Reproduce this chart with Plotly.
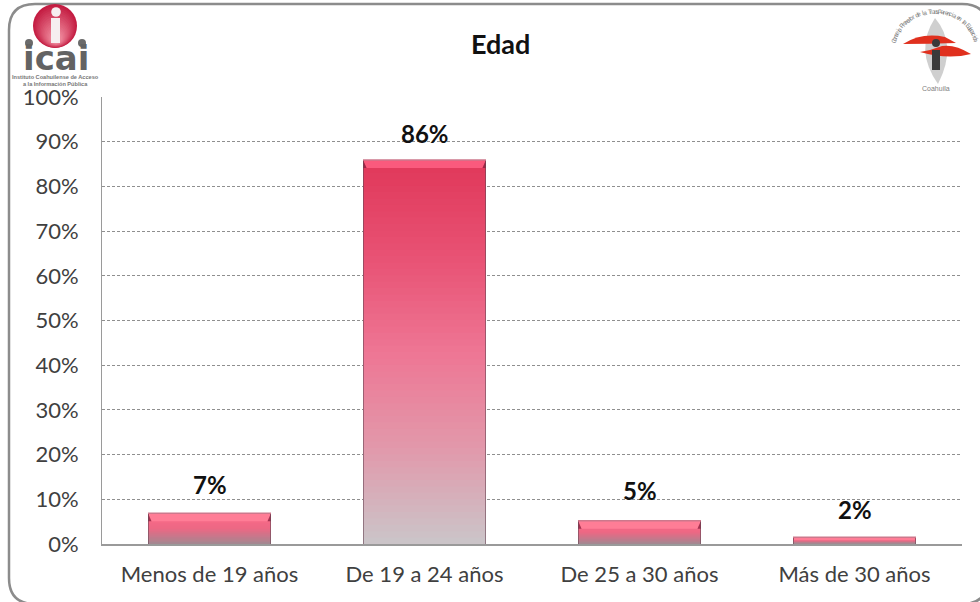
import math
import plotly.graph_objects as go

categories = ["Menos de 19 años", "De 19 a 24 años", "De 25 a 30 años", "Más de 30 años"]
values = [6.9, 85.9, 5.2, 1.5]
value_labels = ["7%", "86%", "5%", "2%"]
label_shift = [29, 27, 30, 28]
title_text = "Edad"
y_ticks = list(range(0, 101, 10))
y_tick_labels = [f"{v}%" for v in y_ticks]

W, H = 980, 602
L, R, T, B = 102, 18, 97, 58
PW, PH = W - L - R, H - T - B
BAR_W = 0.572
FONT = "Lato, Carlito, Calibri, sans-serif"

def px(x): return (x - L) / PW
def py(y): return 1 - (y - T) / PH
def lerp(a, b, t): return tuple(a[i] + (b[i] - a[i]) * t for i in range(3))
def rgb(c): return "rgb(%d,%d,%d)" % tuple(round(v) for v in c)

stops_tall = [(0, (224, 56, 90)), (.25, (232, 82, 116)), (.5, (238, 118, 148)), (.75, (226, 152, 170)), (1, (203, 196, 200))]
stops_small = [(0, (255, 108, 138)), (.5, (236, 104, 132)), (1, (165, 135, 145))]

def grad(stops, t):
    for (a, ca), (b, cb) in zip(stops, stops[1:]):
        if t <= b:
            return lerp(ca, cb, (t - a) / (b - a))
    return stops[-1][1]

fig = go.Figure()
N = 60
xs = list(range(len(categories)))
for k in range(N):
    frac = 1 - k / N
    t = k / (N - 1)
    colors = [rgb(grad(stops_tall if v > 20 else stops_small, t)) for v in values]
    fig.add_trace(go.Bar(x=xs, y=[v * frac for v in values], width=BAR_W,
                         marker=dict(color=colors, line=dict(width=0)),
                         showlegend=False, hoverinfo="skip"))

shapes = []
annots = []

# bevels derived from the bar values
ux, uy = 1 / PW, 100 / PH
for i, v in enumerate(values):
    x0, x1 = i - BAR_W / 2, i + BAR_W / 2
    tall = v > 20
    rim = 3 * ux
    d = min(8, v / uy * 0.45) * uy
    dx = (14 if v > 3 else 2) * ux
    top_col = "rgb(250,90,125)" if tall else "rgb(255,125,150)"
    side_col = "rgba(105,70,85,0.8)"
    # top bevel
    shapes.append(dict(type="path", xref="x", yref="y", layer="above", line_width=0,
                       fillcolor=top_col,
                       path=f"M{x0},{v} L{x1},{v} L{x1-dx},{v-d} L{x0+dx},{v-d} Z"))
    # corners
    shapes.append(dict(type="path", xref="x", yref="y", layer="above", line_width=0,
                       fillcolor="rgba(140,35,65,0.8)",
                       path=f"M{x0},{v} L{x0+dx},{v-d} L{x0},{v-d} Z"))
    shapes.append(dict(type="path", xref="x", yref="y", layer="above", line_width=0,
                       fillcolor="rgba(140,35,65,0.8)",
                       path=f"M{x1},{v} L{x1-dx},{v-d} L{x1},{v-d} Z"))
    # side rims
    for a, b in ((x0, x0 + rim), (x1 - rim, x1)):
        shapes.append(dict(type="rect", xref="x", yref="y", x0=a, x1=b, y0=0, y1=v,
                           fillcolor=side_col, line_width=0, layer="above"))
    # top edge
    shapes.append(dict(type="line", xref="x", yref="y", layer="above", x0=x0, x1=x1, y0=v, y1=v,
                       line=dict(color="rgb(205,120,140)", width=1.5)))
    annots.append(dict(x=i, y=v, xref="x", yref="y", text=f"<b>{value_labels[i]}</b>", showarrow=False,
                       yshift=label_shift[i], yanchor="middle", font=dict(family=FONT, size=24, color="#111111")))

# rounded frame
def frame(x0, y0, x1, y1, r):
    return (f"M{px(x0+r)},{py(y0)} L{px(x1-r)},{py(y0)} Q{px(x1)},{py(y0)} {px(x1)},{py(y0+r)} "
            f"L{px(x1)},{py(y1-r)} Q{px(x1)},{py(y1)} {px(x1-r)},{py(y1)} "
            f"L{px(x0+r)},{py(y1)} Q{px(x0)},{py(y1)} {px(x0)},{py(y1-r)} "
            f"L{px(x0)},{py(y0+r)} Q{px(x0)},{py(y0)} {px(x0+r)},{py(y0)} Z")

shapes.append(dict(type="path", xref="paper", yref="paper", path=frame(9, 4, 988, 604, 26),
                   line=dict(color="#8c8c8c", width=2.5), fillcolor="rgba(0,0,0,0)", layer="below"))

def circle(cx, cy, r, color):
    return dict(type="circle", xref="paper", yref="paper", x0=px(cx - r), x1=px(cx + r),
                y0=py(cy + r), y1=py(cy - r), fillcolor=color, line_width=0, layer="above")

def poly(pts, color):
    d = "M" + " L".join(f"{px(a)},{py(b)}" for a, b in pts) + " Z"
    return dict(type="path", xref="paper", yref="paper", path=d, fillcolor=color, line_width=0, layer="above")

def curve(d_pts, color):
    parts = []
    for cmd, pts in d_pts:
        parts.append(cmd + " ".join(f"{px(a)},{py(b)}" for a, b in pts))
    return dict(type="path", xref="paper", yref="paper", path=" ".join(parts) + " Z",
                fillcolor=color, line_width=0, layer="above")

def note(x, y, text, size, color, angle=0, family="Liberation Sans"):
    annots.append(dict(x=px(x), y=py(y), xref="paper", yref="paper", text=text, showarrow=False,
                       textangle=angle, font=dict(family=family, size=size, color=color),
                       xanchor="center", yanchor="middle", borderpad=0, borderwidth=0))

# left logo
for j in range(14):
    t = j / 13
    shapes.append(circle(55 + t * 1, 26 + t * 12, 22 * (1 - t * 0.72), rgb(lerp((196, 28, 66), (236, 130, 150), t))))
shapes.append(circle(56, 12, 4.8, "#f6eef0"))
shapes.append(poly([(51, 18), (60, 18), (60, 43), (51, 43)], "#f6eef0"))
shapes.append(circle(29, 43, 4, "#6b6b6b"))
shapes.append(circle(82, 43, 4, "#6b6b6b"))
note(56, 58, "<b>icai</b>", 34, "#636363", family="DejaVu Sans")
note(55, 80.5, "<b>Instituto Coahuilense de Acceso<br>a la Información Pública</b>", 5.6, "#777777")

# right logo
shapes.append(curve([("M", [(935, 18)]), ("Q", [(958, 45), (938, 84)]), ("Q", [(914, 50), (935, 18)])], "#cfcfcf"))
shapes.append(curve([("M", [(903, 44)]), ("Q", [(922, 32), (945, 37)]), ("L", [(956, 43)]),
                     ("Q", [(930, 44), (903, 44)])], "#e0301e"))
shapes.append(curve([("M", [(920, 52)]), ("Q", [(948, 60), (971, 54)]), ("Q", [(955, 44), (942, 46)]),
                     ("Q", [(932, 50), (920, 52)])], "#e0301e"))
shapes.append(circle(936, 43, 4, "#3a3a3a"))
shapes.append(poly([(932, 50), (940, 50), (940, 70), (932, 70)], "#3a3a3a"))
arc_text = "Consejo Promotor de la Transparencia en la Educación"
cx, cy, rx, ry = 935, 52, 43, 41
a0, a1 = 195, 345  # degrees, clockwise sweep through the top
for i, ch in enumerate(arc_text):
    ang = a0 + (a1 - a0) * (i + .5) / len(arc_text)
    rad_ang = math.radians(ang)
    x = cx + rx * math.cos(rad_ang)
    y = cy + ry * math.sin(rad_ang)
    if ch != " ":
        note(x, y, ch, 6.5, "#808080", angle=ang - 270)
note(936, 88.5, "Coahuila", 7, "#808080")

annots.append(dict(x=px(500), y=py(44), xref="paper", yref="paper", text=f"<b>{title_text}</b>", showarrow=False,
                   xanchor="center", yanchor="middle", font=dict(family=FONT, size=27, color="#111111")))

fig.update_layout(
    width=W, height=H, margin=dict(l=L, r=R, t=T, b=B, pad=0),
    paper_bgcolor="white", plot_bgcolor="white", barmode="overlay", showlegend=False,
    shapes=shapes, annotations=annots, font=dict(family=FONT, color="#404040"),
    xaxis=dict(range=[-0.5, 3.5], tickmode="array", tickvals=xs, ticktext=categories, showgrid=False,
               zeroline=False, showline=True, linecolor="#9a9a9a", linewidth=1.5, ticks="",
               tickfont=dict(family=FONT, size=22, color="#404040"), ticklabelstandoff=10, fixedrange=True),
    yaxis=dict(range=[0, 100], tickmode="array", tickvals=y_ticks, ticktext=y_tick_labels,
               showgrid=True, gridcolor="#8f8f8f", griddash="3px,2px", gridwidth=1, zeroline=False,
               showline=True, linecolor="#9a9a9a", linewidth=1, ticks="",
               tickfont=dict(family=FONT, size=22, color="#404040"), ticklabelstandoff=18, fixedrange=True),
)
fig.write_html("out.html", config=dict(displayModeBar=False),
               post_script="document.body.style.margin='0';document.documentElement.style.overflow='hidden';")
